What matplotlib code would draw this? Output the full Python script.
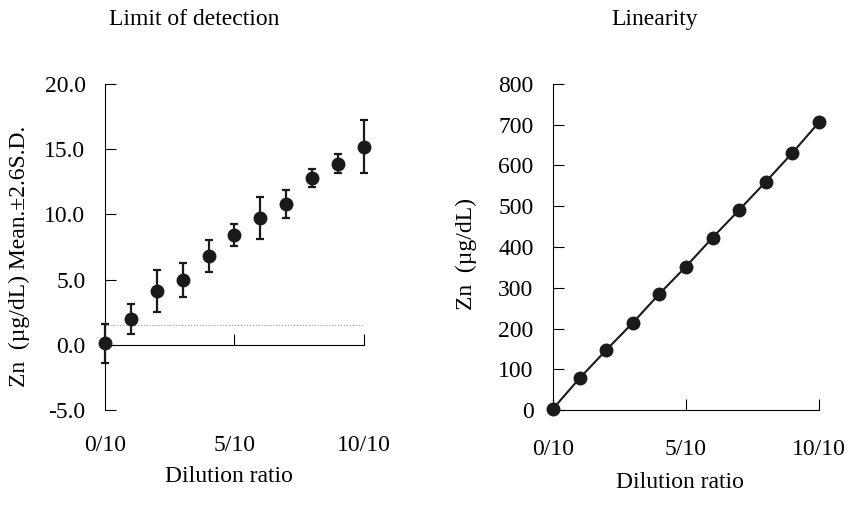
import matplotlib
matplotlib.use('Agg')
import matplotlib.pyplot as plt
import numpy as np

plt.rcParams['font.family'] = ['Liberation Serif', 'DejaVu Serif']
plt.rcParams['font.size'] = 17

## Data
dilution = np.arange(0, 11)
tick_pos = [0, 5, 10]
tick_labels = ['0/10', '5/10', '10/10']

lod_mean = [0.1, 2.0, 4.1, 5.0, 6.8, 8.4, 9.7, 10.8, 12.8, 13.9, 15.2]
lod_sd26 = [1.5, 1.15, 1.6, 1.3, 1.2, 0.85, 1.6, 1.1, 0.7, 0.7, 2.0]
blank_limit = 1.55

lin_zn = [3, 78, 147, 214, 285, 352, 423, 491, 560, 631, 706]

fig = plt.figure(figsize=(8.48, 5.05), dpi=100)

## Left: limit of detection
ax1 = fig.add_axes([0.1238, 0.1881, 0.3054, 0.6456])
ax1.errorbar(dilution, lod_mean, yerr=lod_sd26, fmt='o', color='#1a1a1a',
             markersize=9, capsize=3, elinewidth=1.6, capthick=1.6, clip_on=False, zorder=3)
ax1.plot([0, 10], [blank_limit, blank_limit], color='#999999', linewidth=0.8, linestyle=':')
ax1.set_xlim(0, 10)
ax1.set_ylim(-5, 20)
ax1.set_yticks([-5, 0, 5, 10, 15, 20])
ax1.set_yticklabels(['-5.0', '0.0', '5.0', '10.0', '15.0', '20.0'])
ax1.set_xticks(tick_pos)
ax1.set_xticklabels(tick_labels)
ax1.spines['top'].set_visible(False)
ax1.spines['right'].set_visible(False)
ax1.spines['bottom'].set_position(('data', 0))
ax1.tick_params(axis='y', direction='in', length=8, pad=14)
ax1.tick_params(axis='x', direction='in', length=8, pad=65)
ax1.set_ylabel('Zn  (\u00b5g/dL) Mean.\u00b12.6S.D.')
ax1.yaxis.set_label_coords(-0.29, 0.47)
ax1.set_xlabel('Dilution ratio')
ax1.xaxis.set_label_coords(0.479, -0.173)
fig.text(0.229, 0.962, 'Limit of detection', ha='center', va='center')

## Right: linearity
ax2 = fig.add_axes([0.6521, 0.1881, 0.3137, 0.6456])
ax2.plot(dilution, lin_zn, 'o-', color='#1a1a1a', markersize=9, linewidth=1.5, clip_on=False, zorder=3)
ax2.set_xlim(0, 10)
ax2.set_ylim(0, 800)
ax2.set_yticks(np.arange(0, 801, 100))
ax2.set_xticks(tick_pos)
ax2.set_xticklabels(tick_labels)
ax2.spines['top'].set_visible(False)
ax2.spines['right'].set_visible(False)
ax2.tick_params(axis='y', direction='in', length=8, pad=14)
ax2.tick_params(axis='x', direction='in', length=8, pad=21)
ax2.set_ylabel('Zn  (\u00b5g/dL)')
ax2.yaxis.set_label_coords(-0.286, 0.48)
ax2.set_xlabel('Dilution ratio')
ax2.xaxis.set_label_coords(0.477, -0.19)
fig.text(0.772, 0.962, 'Linearity', ha='center', va='center')

plt.savefig('out.png', dpi=100)
